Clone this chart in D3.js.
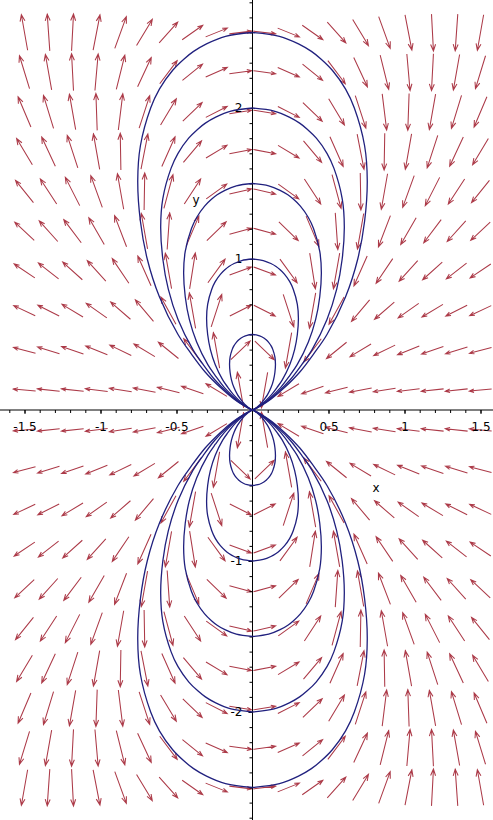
<!DOCTYPE html>
<html><head><meta charset="utf-8">
<script src="https://cdn.jsdelivr.net/npm/d3@7"></script>
<style>html,body{margin:0;padding:0;background:#fff;} svg{display:block;}</style>
</head><body>
<svg id="chart" width="493" height="820"></svg>
<script>
// ---- data ----
const gridX = [-1.5, -1.342, -1.184, -1.026, -0.868, -0.711, -0.553, -0.395, -0.237, -0.079,
               0.079, 0.237, 0.395, 0.553, 0.711, 0.868, 1.026, 1.184, 1.342, 1.5];
const gridY = [2.5, 2.237, 1.974, 1.711, 1.447, 1.184, 0.921, 0.658, 0.395, 0.132,
               -0.132, -0.395, -0.658, -0.921, -1.184, -1.447, -1.711, -1.974, -2.237, -2.5];
// arrow directions, degrees counter-clockwise from +x, rows top to bottom, columns left to right
const arrowAngles = [
  [100, 94, 87, 79, 70, 59, 48, 35, 22, 7, -7, -22, -35, -48, -59, -70, -79, -87, -94, -100],
  [107, 100, 93, 85, 76, 65, 53, 39, 24, 8, -8, -24, -39, -53, -65, -76, -85, -93, -100, -107],
  [113, 107, 100, 92, 83, 72, 59, 44, 27, 9, -9, -27, -44, -59, -72, -83, -92, -100, -107, -113],
  [121, 115, 108, 100, 91, 79, 66, 50, 31, 11, -11, -31, -50, -66, -79, -91, -100, -108, -115, -121],
  [129, 123, 117, 110, 100, 89, 75, 57, 36, 13, -13, -36, -57, -75, -89, -100, -110, -117, -123, -129],
  [137, 132, 127, 120, 111, 100, 86, 67, 44, 15, -15, -44, -67, -86, -100, -111, -120, -127, -132, -137],
  [146, 142, 138, 132, 124, 114, 100, 81, 54, 20, -20, -54, -81, -100, -114, -124, -132, -138, -142, -146],
  [155, 153, 149, 145, 139, 130, 119, 100, 72, 27, -27, -72, -100, -119, -130, -139, -145, -149, -153, -155],
  [165, 163, 161, 158, 154, 149, 141, 127, 100, 44, -44, -100, -127, -141, -149, -154, -158, -161, -163, -165],
  [175, 174, 174, 173, 171, 169, 166, 161, 149, 100, -100, -149, -161, -166, -169, -171, -173, -174, -174, -175],
  [-175, -174, -174, -173, -171, -169, -166, -161, -149, -100, 100, 149, 161, 166, 169, 171, 173, 174, 174, 175],
  [-165, -163, -161, -158, -154, -149, -141, -127, -100, -44, 44, 100, 127, 141, 149, 154, 158, 161, 163, 165],
  [-155, -153, -149, -145, -139, -130, -119, -100, -72, -27, 27, 72, 100, 119, 130, 139, 145, 149, 153, 155],
  [-146, -142, -138, -132, -124, -114, -100, -81, -54, -20, 20, 54, 81, 100, 114, 124, 132, 138, 142, 146],
  [-137, -132, -127, -120, -111, -100, -86, -67, -44, -15, 15, 44, 67, 86, 100, 111, 120, 127, 132, 137],
  [-129, -123, -117, -110, -100, -89, -75, -57, -36, -13, 13, 36, 57, 75, 89, 100, 110, 117, 123, 129],
  [-121, -115, -108, -100, -91, -79, -66, -50, -31, -11, 11, 31, 50, 66, 79, 91, 100, 108, 115, 121],
  [-113, -107, -100, -92, -83, -72, -59, -44, -27, -9, 9, 27, 44, 59, 72, 83, 92, 100, 107, 113],
  [-107, -100, -93, -85, -76, -65, -53, -39, -24, -8, 8, 24, 39, 53, 65, 76, 85, 93, 100, 107],
  [-100, -94, -87, -79, -70, -59, -48, -35, -22, -7, 7, 22, 35, 48, 59, 70, 79, 87, 94, 100]
];
// solution loops: top value, and the branch from the origin up to the top (x >= 0, y >= 0)
const loopTops = [0.5, 1, 1.5, 2, 2.5];
const loopHalfX = [
  [0, 0.01, 0.025, 0.0425, 0.062, 0.081, 0.098, 0.1225, 0.1385, 0.1475, 0.151, 0.1475, 0.134, 0.1225, 0.105, 0.09, 0.0775, 0.0605, 0.0355, 0],
  [0, 0.02, 0.05, 0.085, 0.124, 0.162, 0.196, 0.245, 0.277, 0.295, 0.302, 0.295, 0.268, 0.245, 0.21, 0.18, 0.155, 0.121, 0.071, 0],
  [0, 0.03, 0.075, 0.1275, 0.186, 0.243, 0.294, 0.3675, 0.4155, 0.4425, 0.453, 0.4425, 0.402, 0.3675, 0.315, 0.27, 0.2325, 0.1815, 0.1065, 0],
  [0, 0.04, 0.1, 0.17, 0.248, 0.324, 0.392, 0.49, 0.554, 0.59, 0.604, 0.59, 0.536, 0.49, 0.42, 0.36, 0.31, 0.242, 0.142, 0],
  [0, 0.05, 0.125, 0.2125, 0.31, 0.405, 0.49, 0.6125, 0.6925, 0.7375, 0.755, 0.7375, 0.67, 0.6125, 0.525, 0.45, 0.3875, 0.3025, 0.1775, 0]
];
const loopHalfY = [
  [0, 0.005, 0.015, 0.03, 0.05, 0.075, 0.1, 0.15, 0.2, 0.25, 0.303, 0.35, 0.4, 0.425, 0.45, 0.465, 0.475, 0.485, 0.495, 0.5],
  [0, 0.01, 0.03, 0.06, 0.1, 0.15, 0.2, 0.3, 0.4, 0.5, 0.607, 0.7, 0.8, 0.85, 0.9, 0.93, 0.95, 0.97, 0.99, 1],
  [0, 0.015, 0.045, 0.09, 0.15, 0.225, 0.3, 0.45, 0.6, 0.75, 0.91, 1.05, 1.2, 1.275, 1.35, 1.395, 1.425, 1.455, 1.485, 1.5],
  [0, 0.02, 0.06, 0.12, 0.2, 0.3, 0.4, 0.6, 0.8, 1.0, 1.213, 1.4, 1.6, 1.7, 1.8, 1.86, 1.9, 1.94, 1.98, 2],
  [0, 0.025, 0.075, 0.15, 0.25, 0.375, 0.5, 0.75, 1.0, 1.25, 1.516, 1.75, 2.0, 2.125, 2.25, 2.325, 2.375, 2.425, 2.475, 2.5]
];
const xTickLabels = [-1.5, -1, -0.5, 0.5, 1, 1.5];
const yTickLabels = [-2, -1, 1, 2];
const axisNames = ["x", "y"];

// ---- drawing ----
const W = 493, H = 820;
const svg = d3.select("#chart");
svg.append("rect").attr("width", W).attr("height", H).attr("fill", "#fff");

const x = d3.scaleLinear().domain([-1.5, 1.5]).range([24.5, 480.5]);
const y = d3.scaleLinear().domain([-2.5, 2.5]).range([787.5, 32.5]);

const ARROW = "#ac3a48", CURVE = "#20207e";
const FONT = "DejaVu Sans, Verdana, sans-serif";

// arrows
const cellW = Math.abs(x(gridX[1]) - x(gridX[0]));
const cellH = Math.abs(y(gridY[0]) - y(gridY[1]));
const gA = svg.append("g").attr("fill", "none").attr("stroke", ARROW).attr("stroke-width", 1.05);
arrowAngles.forEach((row, j) => row.forEach((deg, i) => {
  const a = deg * Math.PI / 180;
  const ux = Math.cos(a), uy = -Math.sin(a);
  const L = 0.93 / Math.hypot(ux / cellW, uy / cellH);
  const cx = x(gridX[i]), cy = y(gridY[j]);
  const x0 = cx - ux * L / 2, y0 = cy - uy * L / 2;
  const x1 = cx + ux * L / 2, y1 = cy + uy * L / 2;
  const hl = Math.min(7, Math.max(4, L * 0.22)), ha = 0.36;
  const c = Math.cos(ha), s = Math.sin(ha);
  const b1x = x1 + hl * (-ux * c + uy * s), b1y = y1 + hl * (-uy * c - ux * s);
  const b2x = x1 + hl * (-ux * c - uy * s), b2y = y1 + hl * (-uy * c + ux * s);
  gA.append("path").attr("d",
    `M${x0},${y0}L${x1},${y1}M${b1x},${b1y}L${x1},${y1}L${b2x},${b2y}`);
}));

// axes
const gAx = svg.append("g");
gAx.append("line").attr("x1", 0).attr("x2", W).attr("y1", y(0)).attr("y2", y(0))
  .attr("stroke", "#000").attr("stroke-width", 1);
gAx.append("line").attr("x1", x(0)).attr("x2", x(0)).attr("y1", 0).attr("y2", H)
  .attr("stroke", "#000").attr("stroke-width", 1);

const xMinor = d3.range(-16, 16).map(v => v / 10).filter(v => Math.abs(v) > 1e-9);
const yMinor = d3.range(-27, 28).map(v => v / 10).filter(v => Math.abs(v) > 1e-9);

const xAxisMinor = d3.axisBottom(x).tickValues(xMinor).tickSize(3).tickFormat("");
const xAxisMajor = d3.axisBottom(x).tickValues(xTickLabels).tickSize(4).tickPadding(8)
  .tickFormat(d => String(d));
const yAxisMinor = d3.axisLeft(y).tickValues(yMinor).tickSize(3).tickFormat("");
const yAxisMajor = d3.axisLeft(y).tickValues(yTickLabels).tickSize(4).tickPadding(6)
  .tickFormat(d => String(d));

function styleAxis(g) {
  g.select(".domain").remove();
  g.selectAll("line").attr("stroke", "#000");
  g.selectAll("text").attr("fill", "#000").attr("font-family", FONT).attr("font-size", 12);
}
gAx.append("g").attr("transform", `translate(0,${y(0)})`).call(xAxisMinor).call(styleAxis);
gAx.append("g").attr("transform", `translate(0,${y(0)})`).call(xAxisMajor).call(styleAxis);
gAx.append("g").attr("transform", `translate(${x(0)},0)`).call(yAxisMinor).call(styleAxis);
gAx.append("g").attr("transform", `translate(${x(0)},0)`).call(yAxisMajor).call(styleAxis);

// solution curves
const line = d3.line().x(d => x(d[0])).y(d => y(d[1])).curve(d3.curveCatmullRom.alpha(0.5));
const gC = svg.append("g").attr("fill", "none").attr("stroke", CURVE)
  .attr("stroke-width", 1.3).attr("stroke-linejoin", "round");
loopTops.forEach((top, k) => {
  [[1, 1], [-1, 1], [1, -1], [-1, -1]].forEach(([sx, sy]) => {
    const pts = loopHalfX[k].map((v, i) => [sx * v, sy * loopHalfY[k][i]]);
    gC.append("path").attr("d", line(pts));
  });
});

// axis names
svg.append("text").attr("x", 376).attr("y", 492).text(axisNames[0])
  .attr("font-family", FONT).attr("font-size", 12).attr("text-anchor", "middle");
svg.append("text").attr("x", 196).attr("y", 204).text(axisNames[1])
  .attr("font-family", FONT).attr("font-size", 12).attr("text-anchor", "middle");
</script>
</body></html>
